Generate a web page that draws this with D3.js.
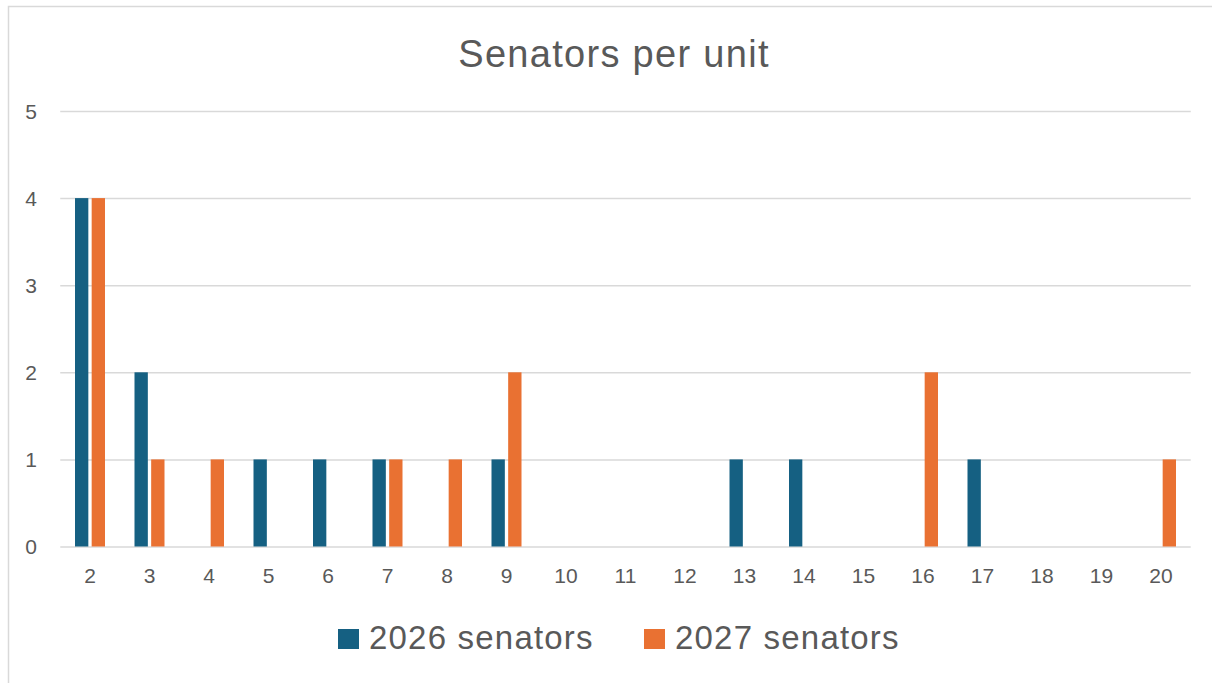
<!DOCTYPE html>
<html>
<head>
<meta charset="utf-8">
<script src="https://cdn.jsdelivr.net/npm/d3@7"></script>
<style>
  html, body { margin: 0; padding: 0; background: #ffffff; }
  svg text { font-family: "Liberation Sans", Arial, sans-serif; fill: #595959; }
</style>
</head>
<body>
<div id="chart"></div>
<script>
'use strict'

// data
const units = ['2', '3', '4', '5', '6', '7', '8', '9', '10', '11', '12', '13', '14', '15', '16', '17', '18', '19', '20']
const senators2026 = [4, 2, 0, 1, 1, 1, 0, 1, 0, 0, 0, 1, 1, 0, 0, 1, 0, 0, 0]
const senators2027 = [4, 1, 1, 0, 0, 1, 1, 2, 0, 0, 0, 0, 0, 0, 2, 0, 0, 0, 1]
const seriesNames = ['2026 senators', '2027 senators']
const seriesColors = ['#156082', '#E97132']
const yTicks = [0, 1, 2, 3, 4, 5]

////////////////////////////////////
//////////// svg setup /////////////
////////////////////////////////////

const svgWidth = 1212
const svgHeight = 683
const plot = { left: 60.25, right: 1190.75, top: 111, bottom: 546.5 }

const svg = d3.select('#chart')
    .append('svg')
    .attr('width', svgWidth)
    .attr('height', svgHeight)

// chart area border (runs off the right and bottom edges)
svg.append('rect')
    .attr('x', 8.5)
    .attr('y', 6.5)
    .attr('width', 1215)
    .attr('height', 690)
    .attr('fill', '#ffffff')
    .attr('stroke', '#D9D9D9')
    .attr('stroke-width', 1.5)

////////////////////////////////////
//////////// Scales ////////////////
////////////////////////////////////

const x0 = d3.scaleBand()
    .domain(units)
    .range([plot.left, plot.right])
    .padding(0)

const x1 = d3.scaleBand()
    .domain(seriesNames)
    .range([0, 30])
    .paddingInner(0.2)

const y = d3.scaleLinear()
    .domain([0, 5])
    .range([plot.bottom, plot.top])

////////////////////////////////////
//////////// Axis //////////////////
////////////////////////////////////

const yAxis = d3.axisLeft(y)
    .tickValues(yTicks)
    .tickSize(-(plot.right - plot.left))
    .tickFormat(d3.format('d'))

svg.append('g')
    .attr('class', 'y-axis')
    .attr('transform', `translate(${plot.left},0)`)
    .call(yAxis)

svg.select('.y-axis').selectAll('line')
    .attr('stroke', '#D9D9D9')
    .attr('stroke-width', 1.5)

svg.select('.y-axis').selectAll('text')
    .attr('font-size', '21px')
    .attr('text-anchor', 'middle')
    .attr('x', 31 - plot.left)
    .attr('dy', '0.35em')

const xAxis = d3.axisBottom(x0)
    .tickSize(0)
    .tickPadding(22)

svg.append('g')
    .attr('class', 'x-axis')
    .attr('transform', `translate(0,${plot.bottom})`)
    .call(xAxis)

svg.select('.x-axis').selectAll('text')
    .attr('font-size', '21px')

svg.selectAll('.domain').remove()

////////////////////////////////////
//////////// bars //////////////////
////////////////////////////////////

const rows = units.map((u, i) => ({ unit: u, values: [senators2026[i], senators2027[i]] }))
const barOffset = (x0.bandwidth() - 30) / 2

const groups = svg.append('g')
    .selectAll('g')
    .data(rows)
    .join('g')
    .attr('transform', d => `translate(${x0(d.unit) + barOffset},0)`)

groups.selectAll('rect')
    .data(d => d.values.map((v, k) => ({ name: seriesNames[k], value: v, color: seriesColors[k] })))
    .join('rect')
    .attr('x', d => x1(d.name))
    .attr('width', x1.bandwidth())
    .attr('y', d => y(d.value))
    .attr('height', d => y(0) - y(d.value))
    .attr('fill', d => d.color)

////////////////////////////////////
//////////// title & legend ////////
////////////////////////////////////

svg.append('text')
    .attr('x', 614)
    .attr('y', 67)
    .attr('text-anchor', 'middle')
    .attr('font-size', '38px')
    .attr('letter-spacing', '1.3px')
    .text('Senators per unit')

const legendX = [338, 644]
const legend = svg.append('g')
    .selectAll('g')
    .data(seriesNames)
    .join('g')
    .attr('transform', (d, i) => `translate(${legendX[i]},629)`)

legend.append('rect')
    .attr('width', 21)
    .attr('height', 20)
    .attr('fill', (d, i) => seriesColors[i])

legend.append('text')
    .attr('x', 31)
    .attr('y', 20)
    .attr('font-size', '33px')
    .attr('letter-spacing', '1.2px')
    .text(d => d)
</script>
</body>
</html>
